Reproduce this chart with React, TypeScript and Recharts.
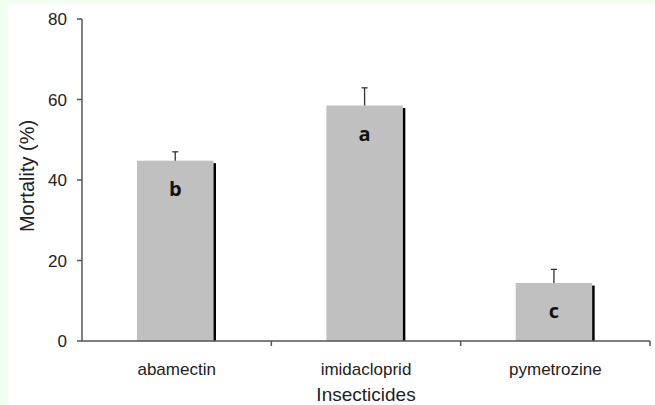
import React from "react";
import { BarChart, Bar, XAxis, YAxis, LabelList } from "recharts";

const insecticides = ["abamectin", "imidacloprid", "pymetrozine"];
const mortality = [44.8, 58.5, 14.4];
const errors = [2.2, 4.4, 3.4];
const letters = ["b", "a", "c"];
const yTicks = [0, 20, 40, 60, 80];

const data = insecticides.map((name, i) => ({
  name,
  value: mortality[i],
  err: errors[i],
  letter: letters[i],
}));

const AXIS = "#555";
const TEXT = "#222";
const SHADOW = 2.5;
const TICK_GAP = 22;

// gray bar with a black drop edge on the right and an upward-only error bar
function ShadedBar(props: any) {
  const { x, y, width, height, payload } = props;
  const w = width - SHADOW;
  const cx = x + w / 2;
  const perUnit = height / payload.value;
  const top = y - payload.err * perUnit;
  return (
    <g>
      <rect x={x} y={y} width={w} height={height} fill="#c0c0c0" />
      <rect x={x + w} y={y + 2.5} width={SHADOW} height={height - 2.5} fill="#000" />
      <line x1={cx} y1={y} x2={cx} y2={top} stroke="#333" strokeWidth={1.3} />
      <line x1={cx - 3} y1={top} x2={cx + 3} y2={top} stroke="#333" strokeWidth={1.3} />
    </g>
  );
}

function LetterLabel(props: any) {
  const { x, y, width, value } = props;
  return (
    <text
      x={x + (width - SHADOW) / 2}
      y={y + 35}
      textAnchor="middle"
      fontFamily="'Open Sans', sans-serif"
      fontWeight={700}
      fontSize={20}
      fill="#111"
    >
      {value}
    </text>
  );
}

// category label, plus a tick mark on the boundary between categories
function CategoryTick(props: any) {
  const { x, y, payload } = props;
  const axisY = y - TICK_GAP;
  const edge = x + (payload.offset || 0);
  return (
    <g>
      <line x1={edge} y1={axisY} x2={edge} y2={axisY + 5} stroke={AXIS} strokeWidth={1.5} />
      <text x={x} y={y} dy="0.71em" textAnchor="middle" fill={TEXT} fontSize={17}>
        {payload.value}
      </text>
    </g>
  );
}

export default function App() {
  return (
    <div style={{ position: "absolute", left: 0, top: 0, width: 655, height: 405, background: "#f0fff0" }}>
      <div style={{ position: "absolute", left: 8, top: 4, right: 0, bottom: 0, background: "#fff" }} />
      <div style={{ position: "absolute", left: 0, top: 0 }}>
        <BarChart
          width={655}
          height={405}
          data={data}
          margin={{ top: 19, right: 5, bottom: 0, left: 0 }}
          style={{ fontFamily: "'Liberation Sans', Arial, sans-serif" }}
        >
          <XAxis
            dataKey="name"
            height={64}
            axisLine={{ stroke: AXIS, strokeWidth: 1.5 }}
            tickLine={false}
            tickSize={0}
            tickMargin={TICK_GAP}
            tick={<CategoryTick />}
            label={{ value: "Insecticides", position: "insideBottom", offset: 4, fill: TEXT, fontSize: 19 }}
          />
          <YAxis
            width={82}
            domain={[0, 80]}
            ticks={yTicks}
            tickSize={5}
            tickMargin={10}
            tick={{ fill: TEXT, fontSize: 17 }}
            axisLine={{ stroke: AXIS, strokeWidth: 1.5 }}
            tickLine={{ stroke: AXIS, strokeWidth: 1.5 }}
            label={{
              value: "Mortality (%)",
              angle: -90,
              position: "insideLeft",
              offset: 27,
              dy: -4,
              fill: TEXT,
              fontSize: 20,
              style: { textAnchor: "middle" },
            }}
          />
          <Bar dataKey="value" barSize={79} shape={<ShadedBar />} isAnimationActive={false}>
            <LabelList dataKey="letter" content={<LetterLabel />} />
          </Bar>
        </BarChart>
      </div>
    </div>
  );
}
